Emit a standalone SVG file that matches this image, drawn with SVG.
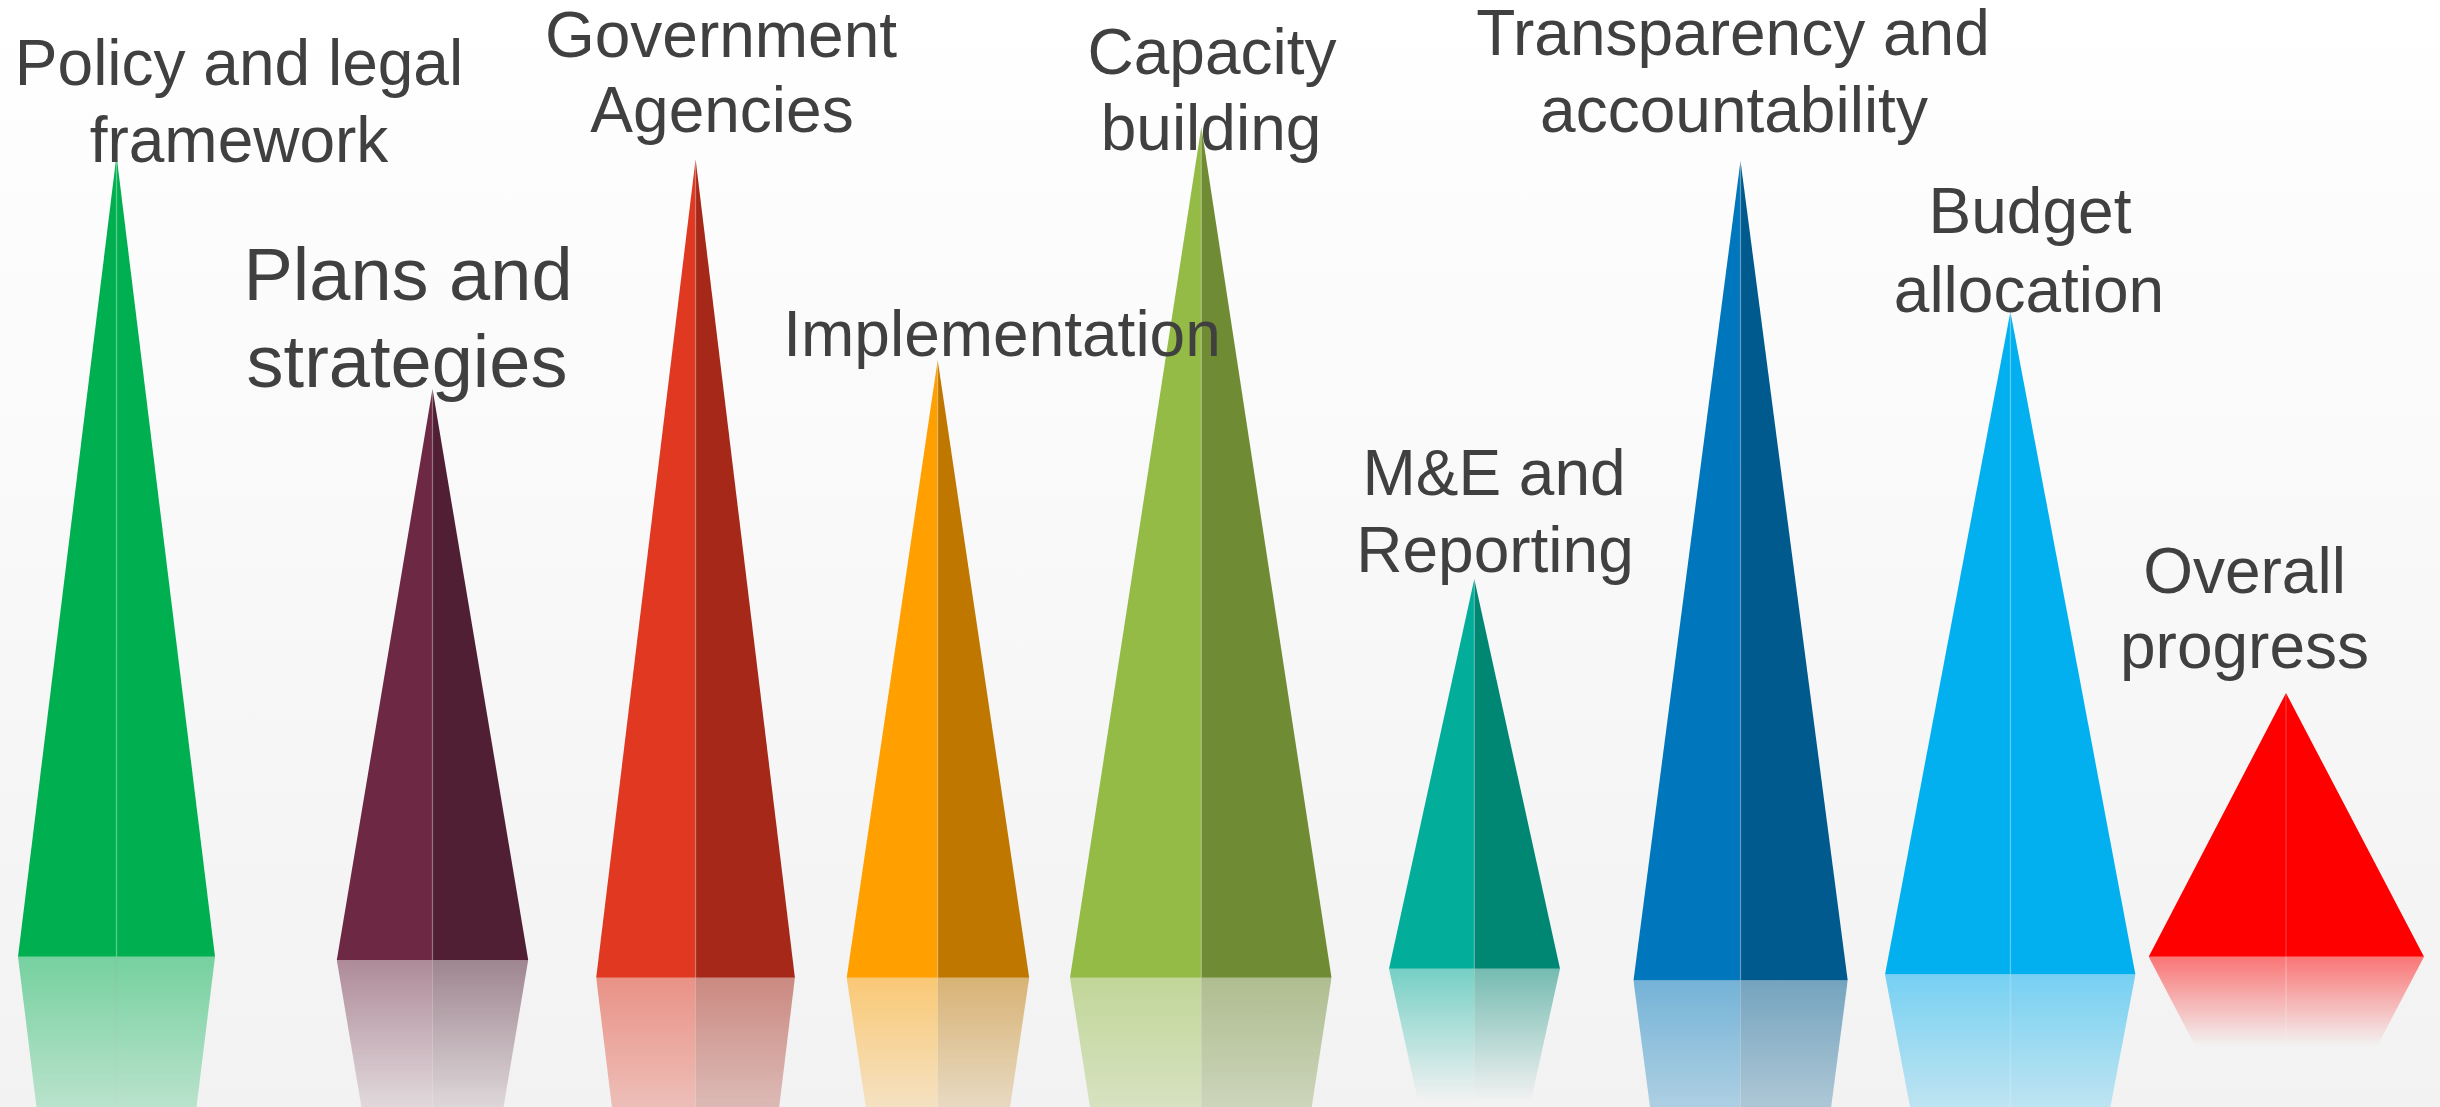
<svg xmlns="http://www.w3.org/2000/svg" width="2440" height="1107" viewBox="0 0 2440 1107">
  <defs>
    <linearGradient id="bg" x1="0" y1="0" x2="0" y2="1">
      <stop offset="0" stop-color="#ffffff"/>
      <stop offset="1" stop-color="#f2f2f2"/>
    </linearGradient>
    <linearGradient id="fadeGrad" x1="0" y1="0" x2="0" y2="1">
      <stop offset="0" stop-color="#ffffff" stop-opacity="0.52"/>
      <stop offset="0.34" stop-color="#ffffff" stop-opacity="0"/>
      <stop offset="1" stop-color="#ffffff" stop-opacity="0"/>
    </linearGradient>
    <mask id="fade" maskContentUnits="objectBoundingBox">
      <rect x="0" y="0" width="1" height="1" fill="url(#fadeGrad)"/>
    </mask>
    <style>
      .lbl { font-family: "Liberation Sans", Arial, "Helvetica", sans-serif; font-size: 64px; fill: #404040; text-anchor: middle; }
      .big { font-size: 74px; }
      .seam { stroke: #ffffff; stroke-opacity: 0.18; stroke-width: 1.5; }
      .rseam { stroke-width: 2; stroke-opacity: 0.6; }
    </style>
  </defs>

  <rect x="0" y="0" width="2440" height="1107" fill="url(#bg)"/>

  <!-- 1 Policy and legal framework -->
  <g id="node-policy">
    <g mask="url(#fade)">
      <polygon points="18,956.7 116.5,956.7 116.5,1757.8" fill="#00b050"/>
      <polygon points="116.5,956.7 215,956.7 116.5,1757.8" fill="#00b050"/>
      <line x1="116.5" y1="956.7" x2="116.5" y2="1757.8" class="rseam" stroke="#009040"/>
    </g>
    <polygon points="18,956.7 116.5,956.7 116.5,155.6" fill="#00b050"/>
    <polygon points="116.5,956.7 215,956.7 116.5,155.6" fill="#00b050"/>
    <line x1="116.5" y1="155.6" x2="116.5" y2="956.7" class="seam"/>
    <text class="lbl" x="239" y="85">Policy and legal</text>
    <text class="lbl" x="239" y="161.7">framework</text>
  </g>

  <!-- 2 Plans and strategies -->
  <g id="node-plans">
    <g mask="url(#fade)">
      <polygon points="336.8,960 432.5,960 432.5,1531" fill="#6d2944"/>
      <polygon points="432.5,960 528.2,960 432.5,1531" fill="#501f33"/>
    </g>
    <polygon points="336.8,960 432.5,960 432.5,389" fill="#6d2944"/>
    <polygon points="432.5,960 528.2,960 432.5,389" fill="#501f33"/>
    <line x1="432.5" y1="389" x2="432.5" y2="960" class="seam"/>
    <text class="lbl big" x="408" y="300">Plans and</text>
    <text class="lbl big" x="407" y="386.7">strategies</text>
  </g>

  <!-- 3 Government Agencies -->
  <g id="node-government">
    <g mask="url(#fade)">
      <polygon points="596.2,977.7 695.6,977.7 695.6,1796.1" fill="#e03821"/>
      <polygon points="695.6,977.7 794.9,977.7 695.6,1796.1" fill="#a52818"/>
    </g>
    <polygon points="596.2,977.7 695.6,977.7 695.6,159.3" fill="#e03821"/>
    <polygon points="695.6,977.7 794.9,977.7 695.6,159.3" fill="#a52818"/>
    <line x1="695.6" y1="159.3" x2="695.6" y2="977.7" class="seam"/>
    <text class="lbl" x="721" y="56.7">Government</text>
    <text class="lbl" x="722" y="131.7">Agencies</text>
  </g>

  <!-- 4 Implementation -->
  <g id="node-implementation">
    <g mask="url(#fade)">
      <polygon points="846.7,977.7 937.7,977.7 937.7,1595.4" fill="#ffa000"/>
      <polygon points="937.7,977.7 1029.2,977.7 937.7,1595.4" fill="#bf7700"/>
    </g>
    <polygon points="846.7,977.7 937.7,977.7 937.7,360" fill="#ffa000"/>
    <polygon points="937.7,977.7 1029.2,977.7 937.7,360" fill="#bf7700"/>
    <line x1="937.7" y1="360" x2="937.7" y2="977.7" class="seam"/>
  </g>

  <!-- 5 Capacity building -->
  <g id="node-capacity">
    <text class="lbl" x="1212" y="74">Capacity</text>
    <text class="lbl" x="1211" y="150">building</text>
    <g mask="url(#fade)">
      <polygon points="1070,977.7 1201.3,977.7 1201.3,1828.4" fill="#93bb45"/>
      <polygon points="1201.3,977.7 1331.5,977.7 1201.3,1828.4" fill="#6f8b33"/>
    </g>
    <polygon points="1070,977.7 1201.3,977.7 1201.3,127" fill="#93bb45"/>
    <polygon points="1201.3,977.7 1331.5,977.7 1201.3,127" fill="#6f8b33"/>
    <line x1="1201.3" y1="127" x2="1201.3" y2="977.7" class="seam"/>
  </g>

  <text id="label-implementation" class="lbl" x="1002" y="356">Implementation</text>

  <!-- 6 M&E and Reporting -->
  <g id="node-me">
    <g mask="url(#fade)">
      <polygon points="1389,968.7 1474.3,968.7 1474.3,1358.4" fill="#02ae9a"/>
      <polygon points="1474.3,968.7 1560,968.7 1474.3,1358.4" fill="#008774"/>
    </g>
    <polygon points="1389,968.7 1474.3,968.7 1474.3,579" fill="#02ae9a"/>
    <polygon points="1474.3,968.7 1560,968.7 1474.3,579" fill="#008774"/>
    <line x1="1474.3" y1="579" x2="1474.3" y2="968.7" class="seam"/>
    <text class="lbl" x="1494" y="495">M&amp;E and</text>
    <text class="lbl" x="1495" y="571.7">Reporting</text>
  </g>

  <!-- 7 Transparency and accountability -->
  <g id="node-transparency">
    <g mask="url(#fade)">
      <polygon points="1633.5,980.5 1740.5,980.5 1740.5,1800" fill="#0077bc"/>
      <polygon points="1740.5,980.5 1847.7,980.5 1740.5,1800" fill="#005a8e"/>
    </g>
    <polygon points="1633.5,980.5 1740.5,980.5 1740.5,161" fill="#0077bc"/>
    <polygon points="1740.5,980.5 1847.7,980.5 1740.5,161" fill="#005a8e"/>
    <line x1="1740.5" y1="161" x2="1740.5" y2="980.5" class="seam"/>
    <text class="lbl" x="1733" y="55">Transparency and</text>
    <text class="lbl" x="1734" y="131.7">accountability</text>
  </g>

  <!-- 8 Budget allocation -->
  <g id="node-budget">
    <g mask="url(#fade)">
      <polygon points="1885,974.5 2010.4,974.5 2010.4,1637.3" fill="#02b0f0"/>
      <polygon points="2010.4,974.5 2135.4,974.5 2010.4,1637.3" fill="#02b0f0"/>
      <line x1="2010.4" y1="974.5" x2="2010.4" y2="1637.3" class="rseam" stroke="#30c0f2"/>
    </g>
    <polygon points="1885,974.5 2010.4,974.5 2010.4,311.7" fill="#02b0f0"/>
    <polygon points="2010.4,974.5 2135.4,974.5 2010.4,311.7" fill="#02b0f0"/>
    <line x1="2010.4" y1="311.7" x2="2010.4" y2="974.5" class="seam"/>
    <text class="lbl" x="2030" y="233.3">Budget</text>
    <text class="lbl" x="2029" y="311.7">allocation</text>
  </g>

  <!-- 9 Overall progress -->
  <g id="node-overall">
    <g mask="url(#fade)">
      <polygon points="2148.7,956.7 2286,956.7 2286,1220.4" fill="#ff0000"/>
      <polygon points="2286,956.7 2424,956.7 2286,1220.4" fill="#ff0000"/>
      <line x1="2286" y1="956.7" x2="2286" y2="1220.4" class="rseam" stroke="#ff5050"/>
    </g>
    <polygon points="2148.7,956.7 2286,956.7 2286,693" fill="#ff0000"/>
    <polygon points="2286,956.7 2424,956.7 2286,693" fill="#ff0000"/>
    <line x1="2286" y1="693" x2="2286" y2="956.7" class="seam"/>
    <text class="lbl" x="2244.5" y="592.6">Overall</text>
    <text class="lbl" x="2244.5" y="668">progress</text>
  </g>

  <g id="connectors"/>
</svg>
